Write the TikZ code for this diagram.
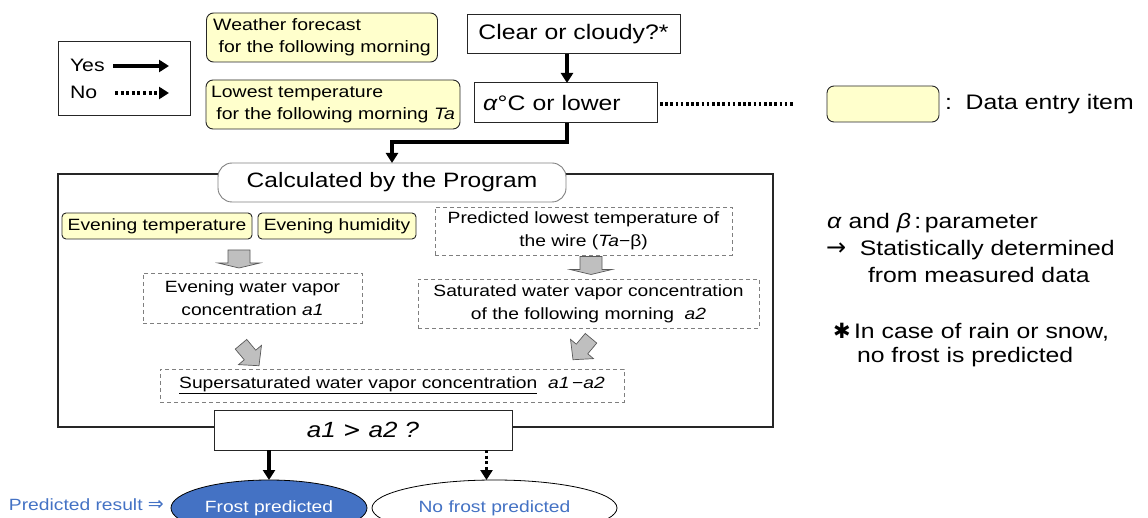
\documentclass[tikz,border=0pt]{standalone}
\usepackage{fontspec}
\setmainfont{Liberation Sans}[FakeStretch=1.18]
\newfontfamily\symfont{DejaVu Sans}
\usetikzlibrary{arrows.meta,shapes.geometric}
\definecolor{entryfill}{HTML}{FFFFCC}
\definecolor{resultblue}{HTML}{4472C4}
\definecolor{dashgray}{HTML}{7F7F7F}
\definecolor{blockfill}{HTML}{BFBFBF}
\definecolor{blockdraw}{HTML}{595959}
\tikzset{
  fA/.style={font=\fontsize{16.5}{22}\selectfont},
  fB/.style={font=\fontsize{16.3}{23}\selectfont},
  fC/.style={font=\fontsize{18}{22}\selectfont},
  fD/.style={font=\fontsize{21}{25}\selectfont},
  fE/.style={font=\fontsize{20.8}{26}\selectfont},
  flowbox/.style={draw=black!85, line width=1pt, fill=white},
  entry/.style={draw=black!85, line width=0.9pt, fill=entryfill, rounded corners=7pt},
  calcbox/.style={draw=dashgray, line width=0.9pt, dash pattern=on 4pt off 3pt, align=center},
  yesarrow/.style={line width=3.2pt, -{Triangle[length=10pt,width=12pt]}},
  noarrow/.style={line width=3.2pt, dash pattern=on 3pt off 2.6pt, -{Triangle[length=10pt,width=12pt]}},
  blockarrow/.pic={
    \draw[draw=blockdraw, fill=blockfill, line width=0.7pt, line join=miter]
      (-11,-9) -- (11,-9) -- (11,4) -- (21,4) -- (0,9) -- (-21,4) -- (-11,4) -- cycle;},
  slantarrow/.pic={
    \draw[draw=blockdraw, fill=blockfill, line width=0.7pt, line join=miter]
      (-7.5,-14) -- (7.5,-14) -- (7.5,0) -- (15,0) -- (0,14) -- (-15,0) -- (-7.5,0) -- cycle;}
}
\begin{document}
\begin{tikzpicture}[x=1pt, y=-1pt, every node/.style={inner sep=0pt, outer sep=0pt}]
\clip (0,0) rectangle (1148,518);

% legend for the connector styles
\node[flowbox, minimum width=132, minimum height=74] (legend) at (124,79) {};
\node[fC, anchor=west] (yes) at (70,65) {Yes};
\node[fC, anchor=west] (no) at (70,92) {No};
\coordinate (yesS) at (113,66);
\coordinate (yesE) at (169,66);
\coordinate (noS) at (115,93);
\coordinate (noE) at (169,93);
\draw[yesarrow] (yesS) -- (yesE);
\draw[noarrow] (noS) -- (noE);

% morning forecast inputs
\node[entry, fA, minimum width=231, minimum height=49, align=left] (forecast) at (322,37.5)
  {Weather forecast\\\ for the following morning};
\node[entry, fA, minimum width=254, minimum height=49, align=left] (lowtemp) at (333,104.5)
  {Lowest temperature\\\ for the following morning \textit{Ta}};

% decision chain
\node[flowbox, fD, minimum width=213, minimum height=39] (clear) at (573.5,34.5) {Clear or cloudy?*};
\node[flowbox, fD, minimum width=183, minimum height=40, text width=165, align=left] (alpha) at (565.5,103)
  {\textit{α}°C or lower};
\draw[yesarrow] ([xshift=-6.5pt]clear.south) -- ([xshift=1.5pt]alpha.north);
\coordinate (dotend) at (795,104);
\draw[line width=3.2pt, dash pattern=on 2.6pt off 2.6pt] ([xshift=3pt,yshift=-1pt]alpha.east) -- (dotend);

% key for data entry items
\node[entry, minimum width=112, minimum height=36] (entrykey) at (883,104) {};
\node[fD, anchor=west] (entrytext) at (945,104) {:\ \ Data entry item};

% calculation frame
\node[draw=black!85, line width=1.1pt, minimum width=715, minimum height=253] (frame) at (415.5,300.5) {};
\node[draw=gray, line width=0.9pt, fill=white, rounded corners=14pt, fE,
      minimum width=348, minimum height=39] (calc) at (392,182.5) {Calculated by the Program};
\draw[yesarrow] ([xshift=1.5pt]alpha.south) -- ++(0,19) -| (calc.north);

\node[entry, fB, rounded corners=4pt, minimum width=190, minimum height=26] (etemp) at (157,226) {Evening temperature};
\node[entry, fB, rounded corners=4pt, minimum width=158, minimum height=26] (ehum) at (337,226) {Evening humidity};
\pic at (239,259) {blockarrow};
\node[calcbox, fB, minimum width=219, minimum height=50] (evap) at (252.5,298)
  {Evening water vapor\\concentration \textit{a1}};

\node[calcbox, fB, minimum width=297, minimum height=48] (wire) at (583.5,231)
  {Predicted lowest temperature of\\the wire (\textit{Ta}−β)};
\pic at (591,265.5) {blockarrow};
\node[calcbox, fB, minimum width=341, minimum height=49] (sat) at (588.5,303.5)
  {Saturated water vapor concentration\\of the following morning\ \ \textit{a2}};

\pic[rotate=40] at (250,355) {slantarrow};
\pic[rotate=-40] at (582,349) {slantarrow};
\node[calcbox, fB, minimum width=464, minimum height=33] (super) at (392,385.5)
  {\underline{Supersaturated water vapor concentration}\ \ \textit{a1}\,−\textit{a2}};

\node[flowbox, minimum width=298, minimum height=40, font=\fontsize{22}{27}\selectfont\itshape] (cmp) at (363,430)
  {a1\ {\upshape\symfont >}\ a2 ?};

% results
\node[ellipse, draw=black, line width=0.8pt, fill=resultblue, text=white, fB,
      minimum width=196, minimum height=56] (frost) at (269,508) {Frost predicted};
\node[ellipse, draw=black, line width=0.8pt, fill=white, text=resultblue, fB,
      minimum width=245, minimum height=56] (nofrost) at (494.5,508) {No frost predicted};
\coordinate (nfin) at ([xshift=-8pt]nofrost.north);
\draw[yesarrow] (cmp.south -| frost.north) -- (frost.north);
\draw[noarrow] (cmp.south -| nfin) -- (nfin);
\node[fB, anchor=west, text=resultblue] (result) at (9,505)
  {Predicted result {\symfont\fontsize{19}{22}\selectfont ⇒}};

% notes
\node[fD, anchor=west] (params) at (827,223) {\textit{α} and \textit{β}\,:\,parameter};
\node[fD, anchor=west] (stat) at (826,250) {{\symfont\fontsize{24}{25}\selectfont →}\ \ Statistically determined};
\node[fD, anchor=west] (meas) at (868,275) {from measured data};
\node[fD, anchor=west] (rain) at (833,332) {{\symfont ✱}\,In case of rain or snow,};
\node[fD, anchor=west] (rainnote) at (857,357) {no frost is predicted};
\end{tikzpicture}
\end{document}
